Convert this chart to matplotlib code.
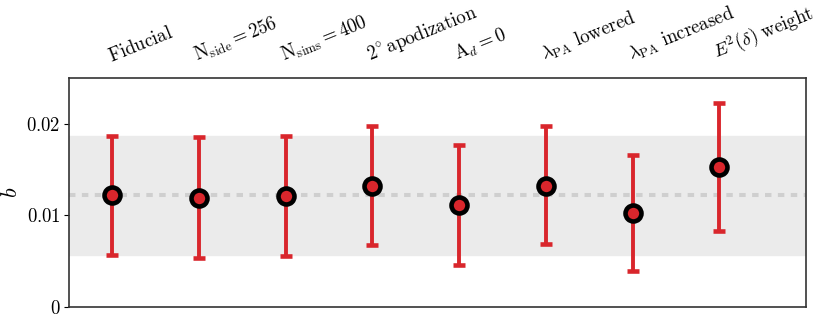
import matplotlib
matplotlib.use("Agg")
import matplotlib.pyplot as plt
import matplotlib.transforms as mtransforms

labels = [r"$\mathrm{Fiducial}$",
          r"$\mathrm{N_{side}}=256$",
          r"$\mathrm{N_{sims}}=400$",
          r"$2^{\circ}\,\mathrm{apodization}$",
          r"$\mathrm{A}_d=0$",
          r"$\lambda_{\mathrm{PA}}\ \mathrm{lowered}$",
          r"$\lambda_{\mathrm{PA}}\ \mathrm{increased}$",
          r"$E^2(\delta)\ \mathrm{weight}$"]
b_val = [0.01224, 0.01191, 0.01213, 0.01322, 0.01115, 0.01322, 0.01027, 0.01530]
b_hi = [0.01869, 0.01852, 0.01870, 0.01978, 0.01770, 0.01978, 0.01661, 0.02230]
b_lo = [0.00568, 0.00536, 0.00560, 0.00678, 0.00459, 0.00689, 0.00393, 0.00830]
fid_band = (0.00565, 0.01872)
fid_val = 0.01221

plt.rcParams["font.family"] = "serif"
plt.rcParams["font.serif"] = ["cmr10", "DejaVu Serif"]
plt.rcParams["mathtext.fontset"] = "cm"
plt.rcParams["axes.formatter.use_mathtext"] = True

fig = plt.figure(figsize=(8.22, 3.24), dpi=100)
ax = fig.add_axes([69/822, 17/324, 737/822, 229/324])

x = list(range(len(labels)))
err_lo = [v - l for v, l in zip(b_val, b_lo)]
err_hi = [h - v for v, h in zip(b_val, b_hi)]

ax.axhspan(fid_band[0], fid_band[1], color="#ebebeb", zorder=0)
ax.axhline(fid_val, color="#cfcfcf", lw=2.9, ls=(0, (1.6, 1.6)), zorder=1)
ax.errorbar(x, b_val, yerr=[err_lo, err_hi], fmt="o", color="#d9262c",
            ecolor="#d9262c", elinewidth=2.8, capsize=4.5, capthick=2.8,
            ms=11.5, mfc="#d9262c", mec="black", mew=3.3, zorder=3)

ax.set_xlim(-0.5, 8)
ax.set_ylim(0, 0.025)
ax.set_yticks([0, 0.01, 0.02])
ax.set_yticklabels(["$0$", "$0.01$", "$0.02$"], fontsize=13.5)
ax.set_ylabel(r"$b$", fontsize=16, labelpad=4)
ax.xaxis.tick_top()
ax.set_xticks(x)
ax.set_xticklabels(labels, rotation=22, ha="left", fontsize=13.5,
                   rotation_mode="anchor")
shift = mtransforms.ScaledTranslation(4/100, 0, fig.dpi_scale_trans)
for t in ax.get_xticklabels():
    t.set_transform(t.get_transform() + shift)
ax.tick_params(axis="x", length=0, pad=9)
ax.tick_params(axis="y", length=3.5, direction="out", right=False, pad=2.5)
for s in ax.spines.values():
    s.set_color("#333333")
    s.set_linewidth(1.2)

fig.savefig("out.png", dpi=100)
